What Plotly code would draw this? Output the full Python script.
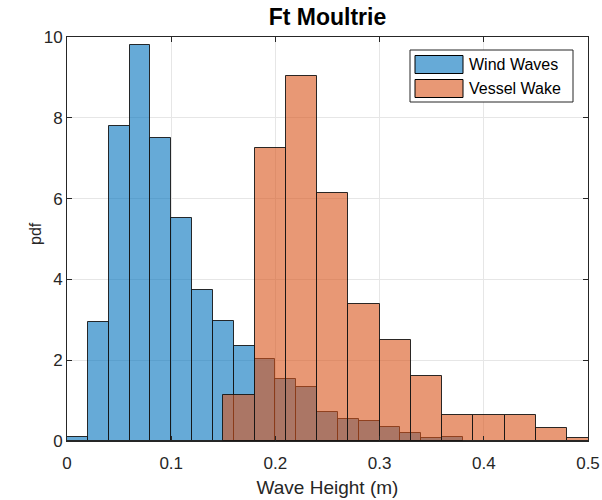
import plotly.graph_objects as go

# Wind-wave histogram: bin width 0.02 m, starting at 0
wind_start = 0.0
wind_width = 0.02
wind_pdf = [0.09, 2.94, 7.79, 9.80, 7.51, 5.51, 3.75, 2.96, 2.36,
            2.02, 1.53, 1.33, 0.71, 0.54, 0.49, 0.35, 0.19, 0.07, 0.09]

# Vessel-wake histogram: bin width 0.03 m, starting at 0.15
wake_start = 0.15
wake_width = 0.03
wake_pdf = [1.13, 7.26, 9.04, 6.13, 3.38, 2.49, 1.61, 0.64, 0.64, 0.64, 0.31, 0.08]

series_names = ["Wind Waves", "Vessel Wake"]
series_colors = ["rgba(0,114,189,0.6)", "rgba(217,83,25,0.6)"]

x_ticks = [0, 0.1, 0.2, 0.3, 0.4, 0.5]
x_tick_labels = ["0", "0.1", "0.2", "0.3", "0.4", "0.5"]
y_ticks = [0, 2, 4, 6, 8, 10]

FONT = "Liberation Sans, Arial, Helvetica"
EDGE = "rgba(20,20,20,0.9)"


def centers(start, width, n):
    return [start + width * (i + 0.5) for i in range(n)]


fig = go.Figure()
for name, color, start, width, pdf in [
    (series_names[0], series_colors[0], wind_start, wind_width, wind_pdf),
    (series_names[1], series_colors[1], wake_start, wake_width, wake_pdf),
]:
    fig.add_trace(go.Bar(
        name=name,
        x=centers(start, width, len(pdf)),
        y=pdf,
        width=width,
        showlegend=False,
        marker=dict(color=color, line=dict(color=EDGE, width=1)),
    ))

axis_common = dict(
    showline=True, linecolor="#262626", linewidth=1, mirror="ticks",
    ticks="inside", ticklen=5, tickcolor="#262626",
    showgrid=True, gridcolor="#e6e6e6", gridwidth=1, zeroline=False,
    automargin=False,
    tickfont=dict(family=FONT, size=17, color="#262626"),
)

# Axes frame in pixels, used to place the legend box and the y label
px_l, px_r, px_t, px_b = 67, 588, 37, 441
FIG_H = 500


def xp(px):
    return (px - px_l) / (px_r - px_l)


def yp(py):
    return (px_b - py) / (px_b - px_t)


# Boxed legend with wide swatches in the upper-right corner
shapes = [dict(type="rect", xref="paper", yref="paper",
               x0=xp(410), x1=xp(573), y0=yp(102), y1=yp(50),
               line=dict(color="#262626", width=1), fillcolor="white", layer="above")]
annotations = []
rows = [(55.5, 73.5), (79.5, 97.5)]
for (top, bot), name, color in zip(rows, series_names, series_colors):
    shapes.append(dict(type="rect", xref="paper", yref="paper",
                       x0=xp(415), x1=xp(463), y0=yp(bot), y1=yp(top),
                       line=dict(color="black", width=1), fillcolor=color, layer="above"))
    annotations.append(dict(xref="paper", yref="paper", x=xp(467), y=yp((top + bot) / 2),
                            xanchor="left", yanchor="middle", showarrow=False, text=name,
                            font=dict(family=FONT, size=16, color="black")))

# y-axis label
annotations.append(dict(xref="paper", yref="paper", x=xp(35), y=yp(234),
                        xanchor="center", yanchor="middle", showarrow=False,
                        text="pdf", textangle=-90,
                        font=dict(family=FONT, size=16, color="#262626")))

fig.update_layout(
    width=602, height=FIG_H,
    margin=dict(l=67, r=14, t=37, b=59),
    paper_bgcolor="white", plot_bgcolor="white",
    barmode="overlay", bargap=0,
    title=dict(text="<b>Ft Moultrie</b>", x=0.5, xref="paper", xanchor="center",
               y=1 - 17 / FIG_H, yref="container", yanchor="middle",
               font=dict(family=FONT, size=23, color="black")),
    xaxis=dict(range=[0, 0.5], tickvals=x_ticks, ticktext=x_tick_labels,
               ticklabelstandoff=7,
               title=dict(text="Wave Height (m)", standoff=8,
                          font=dict(family=FONT, size=19, color="#262626")),
               **axis_common),
    yaxis=dict(range=[0, 10], tickvals=y_ticks,
               ticklabelstandoff=0,
               **axis_common),
    shapes=shapes,
    annotations=annotations,
)

fig.write_html("out.html")
